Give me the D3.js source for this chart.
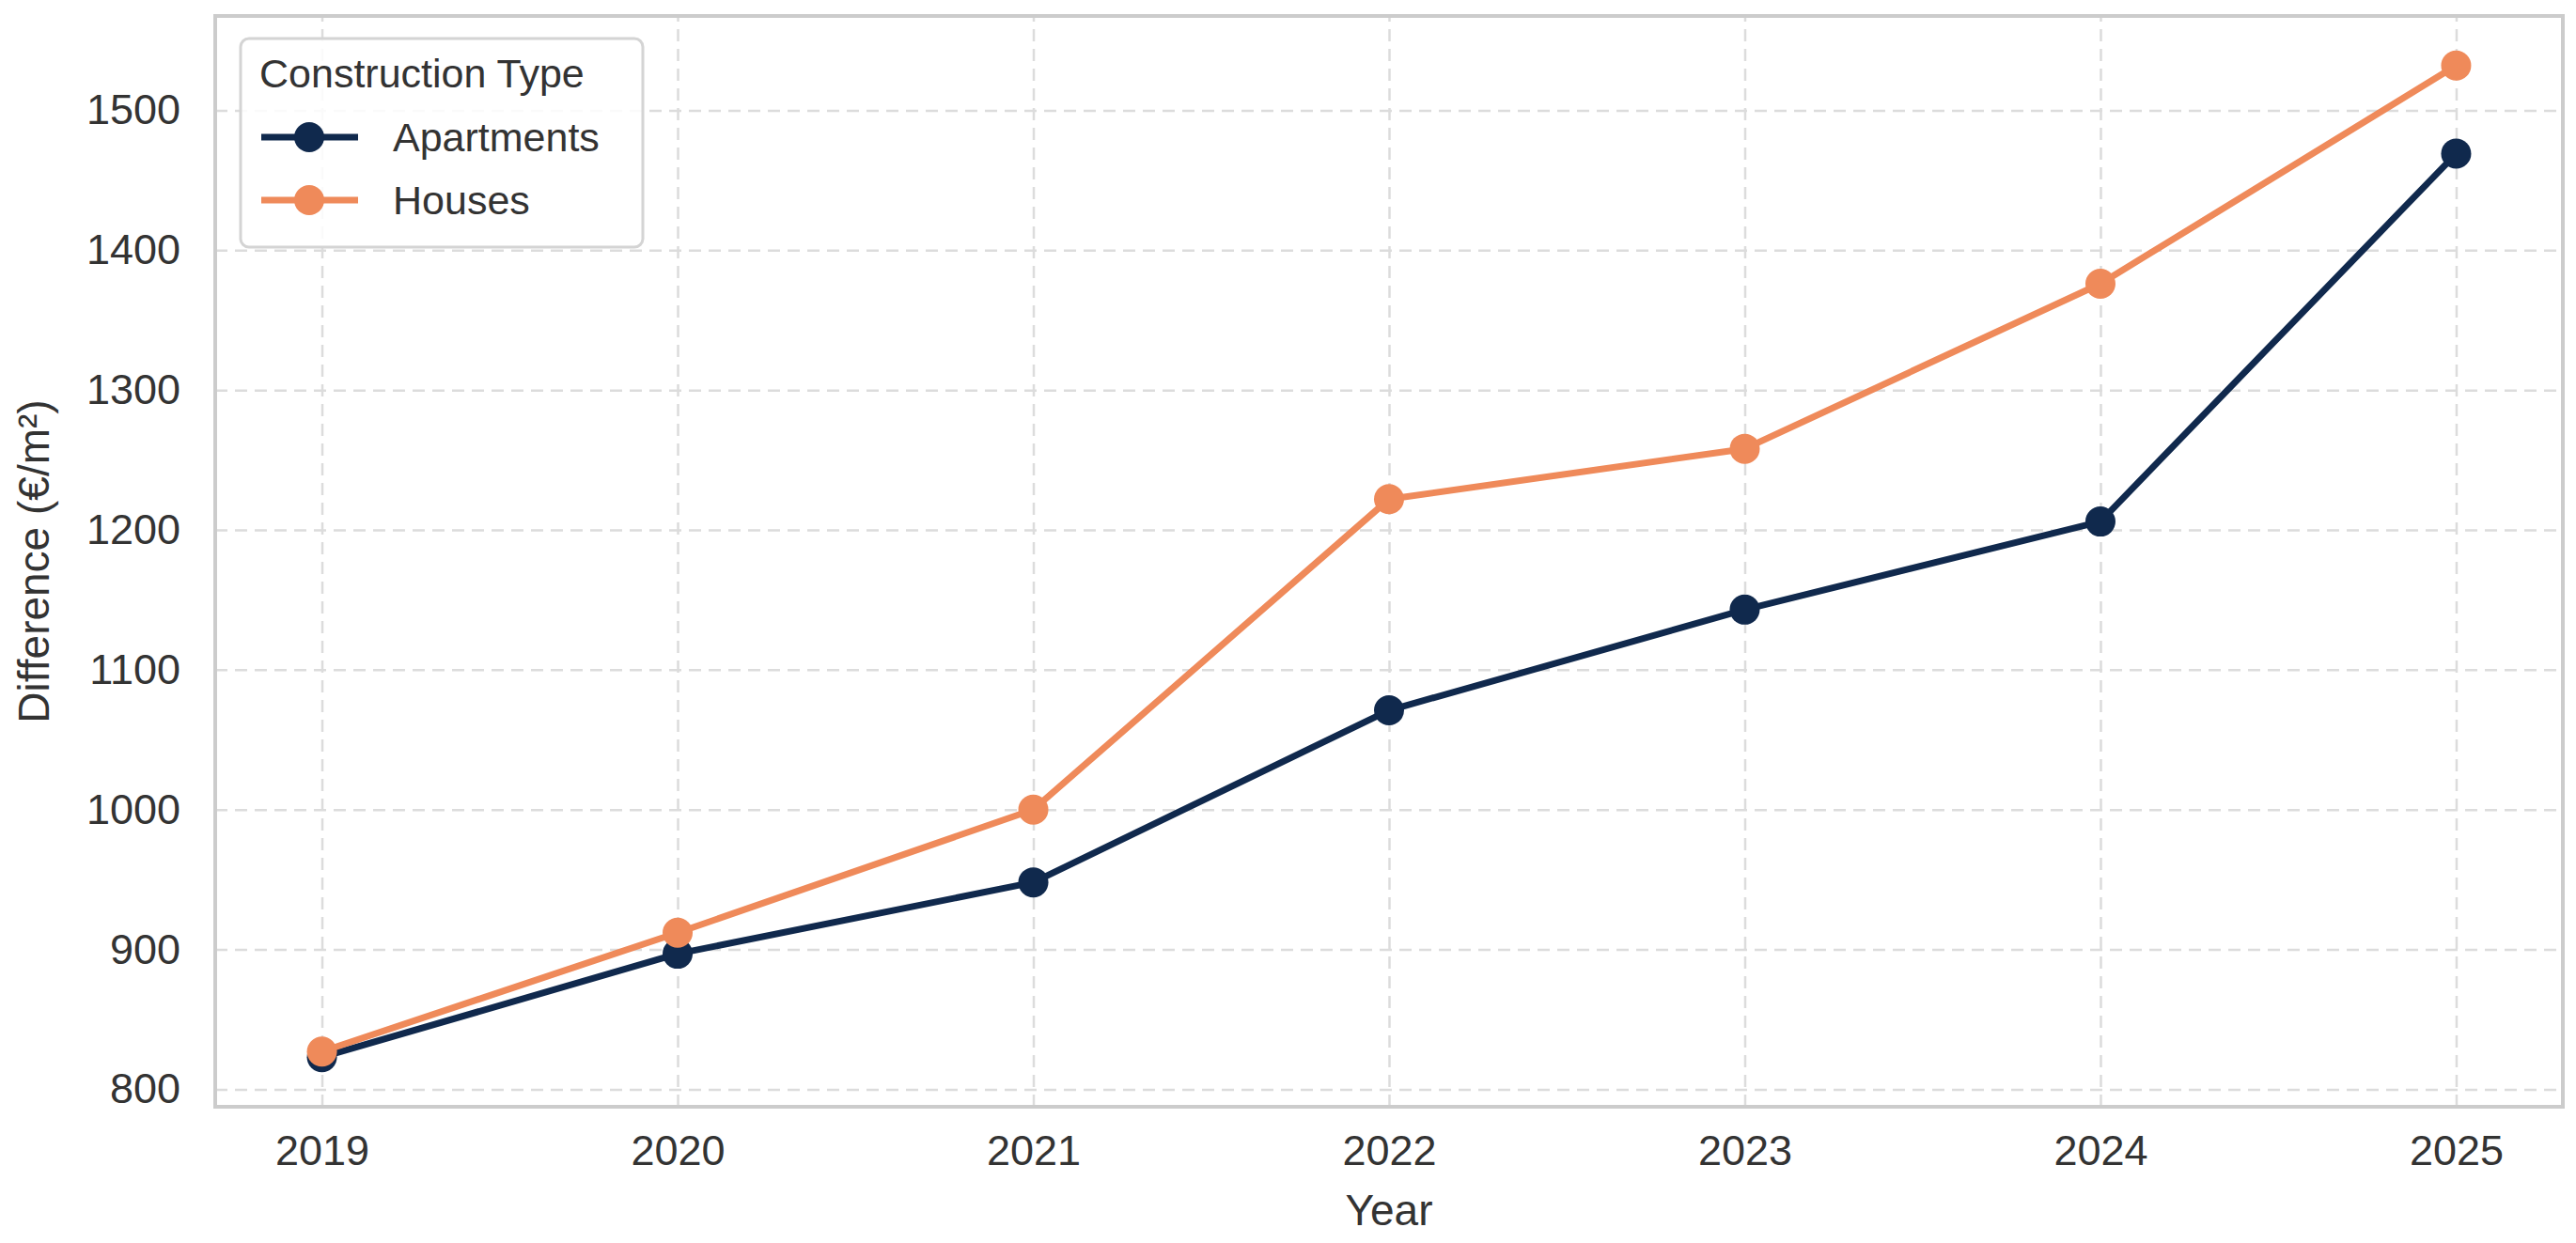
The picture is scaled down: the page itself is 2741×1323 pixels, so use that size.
<!DOCTYPE html>
<html lang="en">

<head>
    <meta charset="UTF-8">
    <title>Difference by Construction Type</title>
    <style>
        body {
            margin: 0;
            overflow: hidden;
            background: #fff;
        }

        svg {
            display: block;
        }

        text {
            font-family: "Liberation Sans", Arial, sans-serif;
            fill: #333333;
        }
    </style>
</head>

<body>
    <svg></svg>

    <script src="https://d3js.org/d3.v7.min.js"></script>
    <script>
        const width = 2741;
        const height = 1323;

        // data
        const years = [2019, 2020, 2021, 2022, 2023, 2024, 2025];
        const apartments = [823, 897, 948, 1071, 1143, 1206, 1469];
        const houses = [827, 912, 1000, 1222, 1258, 1376, 1532];
        const yTicks = [800, 900, 1000, 1100, 1200, 1300, 1400, 1500];

        const seriesNames = ["Apartments", "Houses"];
        const seriesColors = ["#10294d", "#ef8a5a"];

        const series = [apartments, houses].map((vals, i) => ({
            name: seriesNames[i],
            color: seriesColors[i],
            points: years.map((y, j) => ({ year: y, value: vals[j] }))
        }));

        const margin = { top: 17, right: 14, bottom: 145, left: 229 };
        const innerW = width - margin.left - margin.right;
        const innerH = height - margin.top - margin.bottom;

        const svg = d3.select("svg")
            .attr("width", width)
            .attr("height", height);

        // matplotlib-like 5% padding on both axes
        const allVals = apartments.concat(houses);
        const yMin = d3.min(allVals), yMax = d3.max(allVals);
        const yPad = (yMax - yMin) * 0.05;
        const xPad = (years[years.length - 1] - years[0]) * 0.05;

        const x = d3.scaleLinear()
            .domain([years[0] - xPad, years[years.length - 1] + xPad])
            .range([0, innerW]);

        const y = d3.scaleLinear()
            .domain([yMin - yPad, yMax + yPad])
            .range([innerH, 0]);

        const g = svg.append("g")
            .attr("transform", `translate(${margin.left},${margin.top})`);

        // grid
        const xAxis = g.append("g")
            .attr("transform", `translate(0,${innerH})`)
            .call(d3.axisBottom(x).tickValues(years).tickFormat(d3.format("d"))
                .tickSize(-innerH).tickPadding(30));

        const yAxis = g.append("g")
            .call(d3.axisLeft(y).tickValues(yTicks).tickFormat(d3.format("d"))
                .tickSize(-innerW).tickPadding(37));

        [xAxis, yAxis].forEach(ax => {
            ax.select(".domain").remove();
            ax.selectAll(".tick line")
                .attr("stroke", "#dcdcdc")
                .attr("stroke-width", 2.5)
                .attr("stroke-dasharray", "13 8");
            ax.selectAll(".tick text")
                .style("font-size", "45px")
                .attr("fill", "#333333");
        });
        xAxis.selectAll(".tick text").attr("dy", "0.71em");

        // frame
        g.append("rect")
            .attr("width", innerW)
            .attr("height", innerH)
            .attr("fill", "none")
            .attr("stroke", "#cccccc")
            .attr("stroke-width", 4);

        // lines + markers
        const line = d3.line()
            .x(d => x(d.year))
            .y(d => y(d.value));

        series.forEach(s => {
            g.append("path")
                .datum(s.points)
                .attr("fill", "none")
                .attr("stroke", s.color)
                .attr("stroke-width", 7)
                .attr("stroke-linejoin", "round")
                .attr("d", line);

            g.append("g")
                .selectAll("circle")
                .data(s.points)
                .join("circle")
                .attr("cx", d => x(d.year))
                .attr("cy", d => y(d.value))
                .attr("r", 16)
                .attr("fill", s.color);
        });

        // axis labels
        svg.append("text")
            .attr("x", margin.left + innerW / 2)
            .attr("y", 1304)
            .attr("text-anchor", "middle")
            .style("font-size", "46px")
            .text("Year");

        svg.append("text")
            .attr("transform", `translate(52,${margin.top + innerH / 2}) rotate(-90)`)
            .attr("text-anchor", "middle")
            .style("font-size", "46px")
            .text("Difference (€/m²)");

        // legend
        const legend = svg.append("g")
            .attr("transform", "translate(256,41)");

        legend.append("rect")
            .attr("width", 428)
            .attr("height", 222)
            .attr("rx", 9)
            .attr("fill", "#ffffff")
            .attr("fill-opacity", 0.85)
            .attr("stroke", "#d4d4d4")
            .attr("stroke-width", 3);

        legend.append("text")
            .attr("x", 20)
            .attr("y", 52)
            .style("font-size", "43px")
            .text("Construction Type");

        const entry = legend.selectAll(".entry")
            .data(series)
            .join("g")
            .attr("class", "entry")
            .attr("transform", (d, i) => `translate(0,${105 + i * 67})`);

        entry.append("line")
            .attr("x1", 22)
            .attr("x2", 125)
            .attr("stroke", d => d.color)
            .attr("stroke-width", 7);

        entry.append("circle")
            .attr("cx", 73)
            .attr("r", 16)
            .attr("fill", d => d.color);

        entry.append("text")
            .attr("x", 162)
            .attr("dy", "0.35em")
            .style("font-size", "43px")
            .text(d => d.name);
    </script>
</body>

</html>
